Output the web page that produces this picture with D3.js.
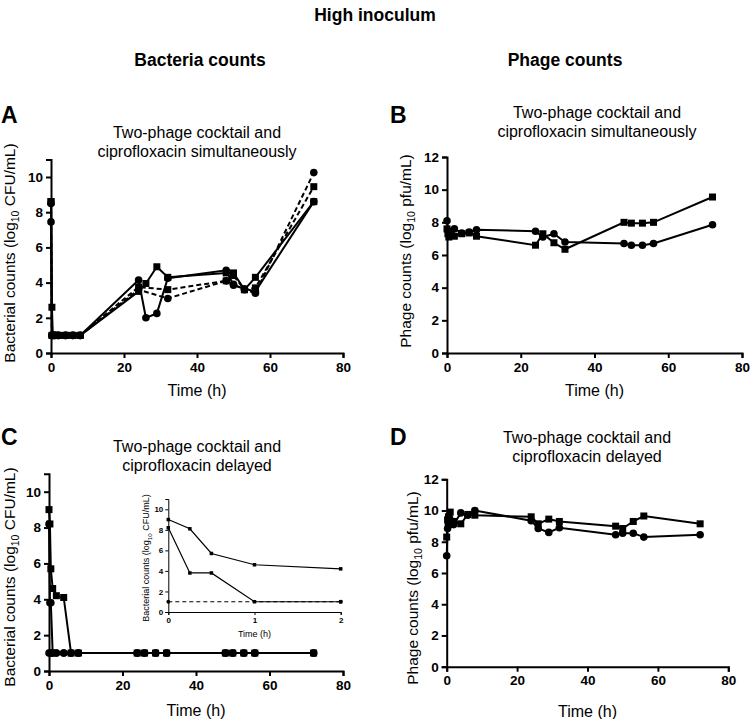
<!DOCTYPE html>
<html><head><meta charset="utf-8">
<script src="https://cdn.jsdelivr.net/npm/d3@7/dist/d3.min.js"></script>
<style>body{margin:0;background:#fff}svg{display:block}text{font-family:"Liberation Sans",Arial,sans-serif;fill:#000}</style>
</head><body><svg id="c" width="750" height="719"></svg>
<script>
// ---- data ----
const times = [0,0.25,0.5,1,2,4,6,8,24,26,29,32,48,50,53,56,72];
// Panel A: bacteria, simultaneous
const aSolidSquare  = [8.6,2.6,1,1,1,1,1,1,3.5,3.95,4.9,4.3,4.55,4.55,3.6,4.3,8.6];
const aSolidCircle  = [7.45,1,1,1,1,1,1,1,4.15,2.0,2.25,4.25,4.7,3.85,3.65,3.5,8.6];
const aDashedSquare = [8.6,1,1,1,1,1,1,1,3.75,null,null,3.6,4.1,4.4,3.6,3.7,9.45];
const aDashedCircle = [8.5,1,1,1,1,1,1,1,3.6,null,null,3.1,4.1,3.9,3.6,3.4,10.25];
// Panel B: phage, simultaneous
const bCircle = [8.1,7.5,7.3,7.4,7.6,7.35,7.4,7.55,7.45,7.1,7.3,6.8,6.7,6.6,6.6,6.7,7.85];
const bSquare = [7.6,7.3,7.1,7.2,7.15,7.3,7.35,7.15,6.6,7.3,6.75,6.35,8.0,7.95,7.95,8.0,9.55];
// Panel C: bacteria, delayed
const cSquare = [9.0,8.2,5.7,4.6,4.2,4.1,1,1,1,1,1,1,1,1,1,1,1];
const cCircle = [8.2,3.8,3.8,1,1,1,1,1,1,1,1,1,1,1,1,1,1];
const cDashed = [1,1,1,1,1,1,1,1,1,1,1,1,1,1,1,1,1];
// Inset of C (first 2 h)
const insetTimes  = [0,0.25,0.5,1,2];
const insetSquare = [9.0,8.1,5.7,4.6,4.2];
const insetCircle = [8.2,3.8,3.8,1.0,1.0];
const insetDashed = [1.0,1.0,1.0,1.0,1.0];
// Panel D: phage, delayed
const dSquare = [8.3,9.4,9.6,9.9,9.3,9.15,9.75,9.7,9.6,9.15,9.45,9.3,9.0,8.85,9.3,9.65,9.15];
const dCircle = [7.1,8.85,9.1,9.1,9.1,9.85,9.7,10.0,9.35,8.85,8.6,8.9,8.45,8.55,8.55,8.3,8.45];
const xTicks = [0,20,40,60,80];
const yTicksBact = [0,2,4,6,8,10];
const yTicksPhage = [0,2,4,6,8,10,12];
const insetXTicks = [0,1,2];

const svg = d3.select("#c");
const FONT = '"Liberation Sans",Arial,sans-serif';

function zip(ts, vs){ return ts.map((t,i)=>({t, v: vs[i]})).filter(d=>d.v!=null); }

function drawPanel(cfg){
  const g = svg.append("g");
  const x = d3.scaleLinear().domain(cfg.xDomain).range(cfg.xRange);
  const y = d3.scaleLinear().domain(cfg.yDomain).range(cfg.yRange);
  const sw = cfg.axisWidth || 2;
  const fs = cfg.tickFont || 13.5;
  const xa = g.append("g").attr("transform",`translate(0,${y(0)})`)
    .call(d3.axisBottom(x).tickValues(cfg.xTicks).tickSizeOuter(0).tickSize(cfg.tickLen||5).tickPadding(cfg.tickPad||4).tickFormat(d3.format("d")));
  const ya = g.append("g").attr("transform",`translate(${x(0)},0)`)
    .call(d3.axisLeft(y).tickValues(cfg.yTicks).tickSizeOuter(0).tickSize(cfg.tickLen||5).tickPadding(cfg.tickPad||3).tickFormat(d3.format("d")));
  [xa,ya].forEach(a=>{
    a.select(".domain").attr("stroke","#000").attr("stroke-width",sw);
    a.selectAll(".tick line").attr("stroke","#000").attr("stroke-width",sw);
    a.selectAll(".tick text").attr("font-family",FONT).attr("font-weight","bold").attr("font-size",fs).attr("fill","#000");
  });
  cfg.series.forEach(s=>{
    const data = zip(cfg.times, s.values);
    g.append("path").datum(data)
      .attr("fill","none").attr("stroke","#000").attr("stroke-width",s.lw||2)
      .attr("stroke-dasharray", s.dashed ? (s.dash||"5,3") : null)
      .attr("d", d3.line().x(d=>x(d.t)).y(d=>y(d.v)));
  });
  cfg.series.forEach(s=>{
    const data = zip(cfg.times, s.values);
    if(s.marker==="square"){
      const ms = s.ms || 7;
      g.selectAll(null).data(data).enter().append("rect")
        .attr("x",d=>x(d.t)-ms/2).attr("y",d=>y(d.v)-ms/2).attr("width",ms).attr("height",ms).attr("fill","#000");
    } else if(s.marker==="circle"){
      const ms = s.ms || 7.6;
      g.selectAll(null).data(data).enter().append("circle")
        .attr("cx",d=>x(d.t)).attr("cy",d=>y(d.v)).attr("r",ms/2).attr("fill","#000");
    }
  });
  if(cfg.xLabel){
    g.append("text").attr("x",(cfg.xRange[0]+cfg.xRange[1])/2).attr("y",cfg.xLabelY)
      .attr("text-anchor","middle").attr("font-size",cfg.xLabelSize||16).text(cfg.xLabel);
  }
  if(cfg.yLabel){
    const ls = cfg.yLabelSize||15.5;
    const t = g.append("text").attr("transform",`translate(${cfg.yLabelX},${cfg.yLabelCY}) rotate(-90)`)
      .attr("text-anchor","middle").attr("font-size",ls);
    t.append("tspan").text(cfg.yLabel[0]);
    t.append("tspan").attr("font-size",ls*0.68).attr("dy",ls*0.28).text(cfg.yLabel[1]);
    t.append("tspan").attr("dy",-ls*0.28).text(cfg.yLabel[2]);
  }
  return {x,y,g};
}

// headers
svg.append("text").attr("x",375).attr("y",21).attr("text-anchor","middle").attr("font-size",17.5).attr("font-weight","bold").text("High inoculum");
svg.append("text").attr("x",200).attr("y",66).attr("text-anchor","middle").attr("font-size",17.5).attr("font-weight","bold").text("Bacteria counts");
svg.append("text").attr("x",565).attr("y",66).attr("text-anchor","middle").attr("font-size",17.5).attr("font-weight","bold").text("Phage counts");

function panelTitle(letter, lx, ly, cx, y1, l1, l2){
  svg.append("text").attr("x",lx).attr("y",ly).attr("font-size",23).attr("font-weight","bold").text(letter);
  svg.append("text").attr("x",cx).attr("y",y1).attr("text-anchor","middle").attr("font-size",16).text(l1);
  svg.append("text").attr("x",cx).attr("y",y1+19).attr("text-anchor","middle").attr("font-size",16).text(l2);
}
panelTitle("A", 1, 123, 197, 137.5, "Two-phage cocktail and", "ciprofloxacin simultaneously");
panelTitle("B", 390, 123, 597, 117.5, "Two-phage cocktail and", "ciprofloxacin simultaneously");
panelTitle("C", 1, 445, 197, 452, "Two-phage cocktail and", "ciprofloxacin delayed");
panelTitle("D", 390, 445, 587, 442.5, "Two-phage cocktail and", "ciprofloxacin delayed");

// Panel A
drawPanel({
  times, xDomain:[0,80], xRange:[51,343], yDomain:[0,11], yRange:[353,353-11*17.6],
  xTicks, yTicks:yTicksBact,
  series:[
    {values:aDashedCircle, marker:"circle", dashed:true},
    {values:aDashedSquare, marker:"square", dashed:true},
    {values:aSolidCircle, marker:"circle"},
    {values:aSolidSquare, marker:"square"}
  ],
  xLabel:"Time (h)", xLabelY:396, yLabel:["Bacterial counts (log","10"," CFU/mL)"], yLabelX:15, yLabelCY:253
});
// Panel B
drawPanel({
  times, xDomain:[0,80], xRange:[447,742], yDomain:[0,12], yRange:[353,157],
  xTicks, yTicks:yTicksPhage,
  series:[
    {values:bCircle, marker:"circle"},
    {values:bSquare, marker:"square"}
  ],
  xLabel:"Time (h)", xLabelY:396, yLabel:["Phage counts (log","10"," pfu/mL)"], yLabelX:411, yLabelCY:251
});
// Panel C
drawPanel({
  times, xDomain:[0,80], xRange:[49,343], yDomain:[0,11], yRange:[671,671-11*17.93],
  xTicks, yTicks:yTicksBact,
  series:[
    {values:cDashed, marker:"circle", dashed:true, lw:1.2, dash:"4,3"},
    {values:cCircle, marker:"circle"},
    {values:cSquare, marker:"square"}
  ],
  xLabel:"Time (h)", xLabelY:716, yLabel:["Bacterial counts (log","10"," CFU/mL)"], yLabelX:15, yLabelCY:577
});
// Inset
drawPanel({
  times:insetTimes, xDomain:[0,2], xRange:[168.3,340.7], yDomain:[0,11], yRange:[612,612-11*10.27],
  xTicks:insetXTicks, yTicks:yTicksBact, axisWidth:1, tickFont:8, tickLen:3, tickPad:2,
  series:[
    {values:insetDashed, marker:null, dashed:true, lw:1.2, dash:"4,3"},
    {values:insetCircle, marker:"square", lw:1.2, ms:3.5},
    {values:insetSquare, marker:"square", lw:1.2, ms:3.5}
  ],
  xLabel:"Time (h)", xLabelY:637, xLabelSize:9, yLabel:["Bacterial counts (log","10"," CFU/mL)"], yLabelX:149, yLabelCY:558, yLabelSize:9
});
svg.append("g").selectAll("circle").data([0,2]).enter().append("circle")
  .attr("cx",d=>168.3+d*86.2).attr("cy",612-1*10.27).attr("r",1.9).attr("fill","#000");
// Panel D
drawPanel({
  times, xDomain:[0,80], xRange:[446.7,728.3], yDomain:[0,12], yRange:[666.7,479.3],
  xTicks, yTicks:yTicksPhage,
  series:[
    {values:dCircle, marker:"circle"},
    {values:dSquare, marker:"square"}
  ],
  xLabel:"Time (h)", xLabelY:717, yLabel:["Phage counts (log","10"," pfu/mL)"], yLabelX:418, yLabelCY:588
});
</script></body></html>
